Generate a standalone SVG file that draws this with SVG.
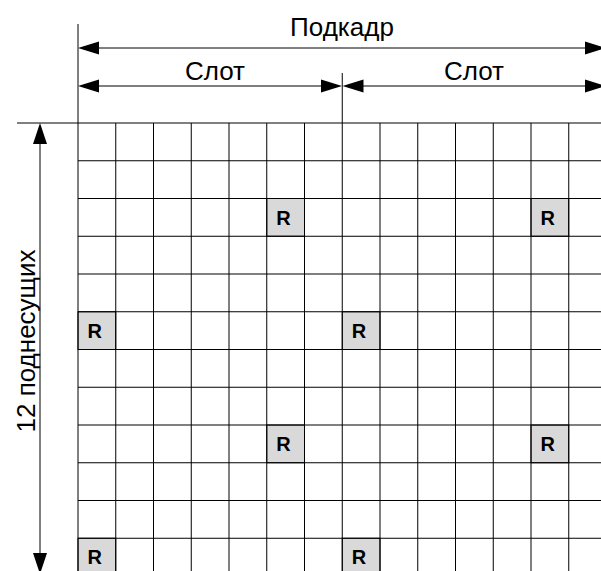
<svg xmlns="http://www.w3.org/2000/svg" width="601" height="571" viewBox="0 0 601 571">
<style>
.t{font-family:"Liberation Sans",Arial,sans-serif;font-size:26px;fill:#000}
.r{font-family:"Liberation Sans",Arial,sans-serif;font-size:20px;font-weight:bold;fill:#000}
.g{stroke:#000;stroke-width:1;fill:none}
.cell{fill:#d9d9d9;stroke:#000;stroke-width:1}
.ah{fill:#000;stroke:none}
</style>
<rect width="601" height="571" fill="#fff"/>
<g id="rcells">
<g id="r1"><rect class="cell" x="266.75" y="198.5" width="37.75" height="37.75"/><text class="r" x="276.25" y="224.5">R</text></g>
<g id="r2"><rect class="cell" x="531" y="198.5" width="37.75" height="37.75"/><text class="r" x="540.5" y="224.5">R</text></g>
<g id="r3"><rect class="cell" x="78" y="311.75" width="37.75" height="37.75"/><text class="r" x="87.5" y="337.75">R</text></g>
<g id="r4"><rect class="cell" x="342.25" y="311.75" width="37.75" height="37.75"/><text class="r" x="351.75" y="337.75">R</text></g>
<g id="r5"><rect class="cell" x="266.75" y="425" width="37.75" height="37.75"/><text class="r" x="276.25" y="451">R</text></g>
<g id="r6"><rect class="cell" x="531" y="425" width="37.75" height="37.75"/><text class="r" x="540.5" y="451">R</text></g>
<g id="r7"><rect class="cell" x="78" y="538.25" width="37.75" height="37.75"/><text class="r" x="87.5" y="564.25">R</text></g>
<g id="r8"><rect class="cell" x="342.25" y="538.25" width="37.75" height="37.75"/><text class="r" x="351.75" y="564.25">R</text></g>
</g>
<g id="grid" class="g">
<path d="M115.75 123V571M153.5 123V571M191.25 123V571M229 123V571M266.75 123V571M304.5 123V571M380 123V571M417.75 123V571M455.5 123V571M493.25 123V571M531 123V571M568.75 123V571"/>
<path d="M78 160.75H601M78 198.5H601M78 236.25H601M78 274H601M78 311.75H601M78 349.5H601M78 387.25H601M78 425H601M78 462.75H601M78 500.5H601M78 538.25H601"/>
</g>
<g id="connectors">
<path class="g" d="M78 24V571M342.25 73V571M17 123H601"/>
<path class="g" d="M99 48H590"/>
<polygon class="ah" points="78,48 99,41.5 99,54.5"/>
<polygon class="ah" points="606,48 585,41.5 585,54.5"/>
<path class="g" d="M99 86H321"/>
<polygon class="ah" points="78,86 99,79.5 99,92.5"/>
<polygon class="ah" points="342,86 321,79.5 321,92.5"/>
<path class="g" d="M363 86H590"/>
<polygon class="ah" points="342.5,86 363.5,79.5 363.5,92.5"/>
<polygon class="ah" points="606,86 585,79.5 585,92.5"/>
<path class="g" d="M40 144V553"/>
<polygon class="ah" points="40,123 33,144 47,144"/>
<polygon class="ah" points="40,574 33,553 47,553"/>
</g>
<g id="labels">
<text class="t" x="342" y="36" text-anchor="middle">Подкадр</text>
<text class="t" x="215" y="80" text-anchor="middle">Слот</text>
<text class="t" x="474" y="80" text-anchor="middle">Слот</text>
<text class="t" transform="translate(35,341) rotate(-90)" text-anchor="middle">12 поднесущих</text>
</g>
</svg>
